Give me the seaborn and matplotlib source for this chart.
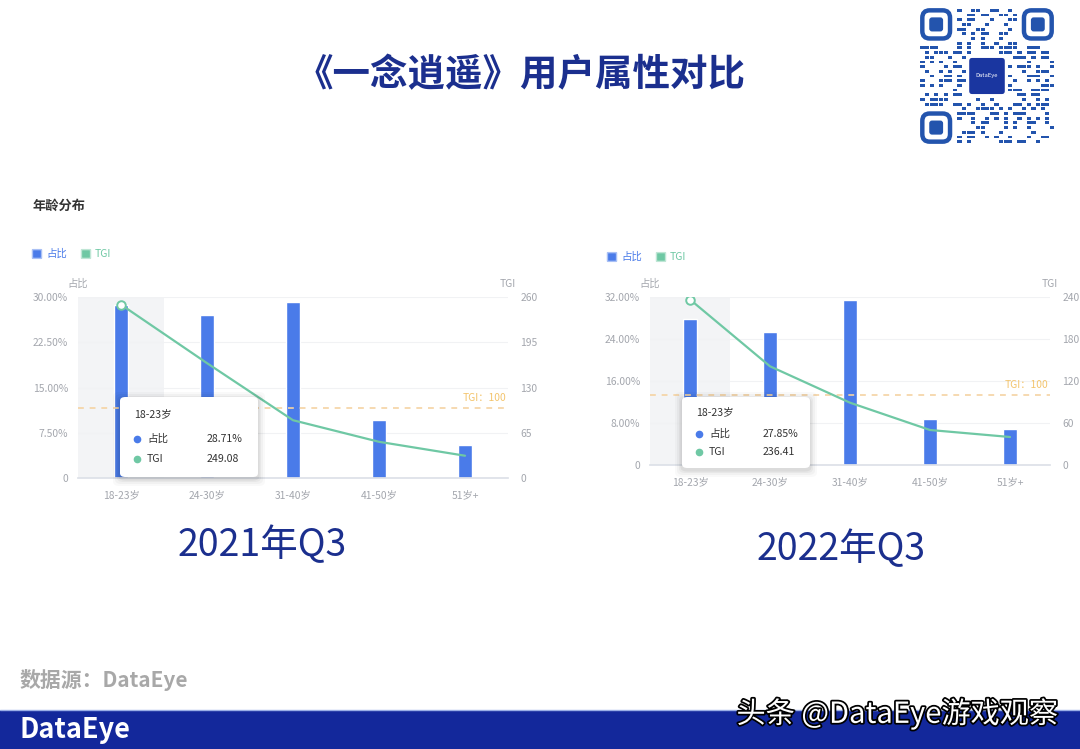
import numpy as np
import matplotlib
matplotlib.use("Agg")
import matplotlib.pyplot as plt
from matplotlib.patches import FancyBboxPatch, Rectangle
import matplotlib.patheffects as pe
import seaborn as sns

# ---- data ----
ages = ["18-23岁", "24-30岁", "31-40岁", "41-50岁", "51岁+"]
share_2021 = [28.71, 27.0, 29.2, 9.6, 5.5]
tgi_2021 = [249.08, 165, 83, 52, 32]
share_2022 = [27.85, 25.3, 31.4, 8.7, 6.9]
tgi_2022 = [236.41, 141, 89, 50, 40]

share_ticks_2021 = [0, 7.5, 15, 22.5, 30]
tgi_ticks_2021 = [0, 65, 130, 195, 260]
share_ticks_2022 = [0, 8, 16, 24, 32]
tgi_ticks_2022 = [0, 60, 120, 180, 240]
tgi_baseline = 100

sns.set_theme(style="white")
plt.rcParams["font.family"] = ["Noto Sans CJK SC", "DejaVu Sans"]

W, H = 1080, 749
fig = plt.figure(figsize=(W / 100, H / 100), dpi=100)
fig.patch.set_facecolor("white")


def fx(px):
    return px / W


def fy(py):
    return 1 - py / H


BLUE = "#4a7be9"
GREEN = "#6fc8a4"
GRAY = "#a3a6ad"
NAVY = "#1b2f8e"

# title
fig.text(fx(521), fy(75), "《一念逍遥》用户属性对比", ha="center", va="center",
         fontsize=27, fontweight="bold", color=NAVY)
fig.text(fx(33), fy(206), "年龄分布", ha="left", va="center",
         fontsize=9.5, fontweight="bold", color="#333333")


def legend(x0, y0):
    fig.add_artist(FancyBboxPatch((fx(x0), fy(y0 + 4)), fx(8), 8 / H,
                                  boxstyle="round,pad=0.0005", fc=BLUE, ec="#a9c0f5",
                                  lw=1, transform=fig.transFigure))
    fig.text(fx(x0 + 13), fy(y0), "占比", ha="left", va="center", fontsize=7.5, color=BLUE)
    fig.add_artist(FancyBboxPatch((fx(x0 + 49), fy(y0 + 4)), fx(8), 8 / H,
                                  boxstyle="round,pad=0.0005", fc=GREEN, ec="#bfe6d5",
                                  lw=1, transform=fig.transFigure))
    fig.text(fx(x0 + 62), fy(y0), "TGI", ha="left", va="center", fontsize=7.5, color=GREEN)


def panel(left, top, right, bottom, share, tgi, sticks, tticks, label_fmt, bar_w):
    ax = fig.add_axes([fx(left), fy(bottom), fx(right - left), (bottom - top) / H])
    ax.axvspan(-0.5, 0.5, color="#f3f4f6", zorder=0, lw=0)
    sns.barplot(x=ages, y=share, color=BLUE, saturation=1, width=bar_w, ax=ax, zorder=2)
    ax.set_xlim(-0.5, len(ages) - 0.5)
    ax.set_ylim(sticks[0], sticks[-1])
    ax.set_yticks(sticks)
    ax.set_yticklabels([label_fmt(v) for v in sticks])
    ax.set_xlabel("")
    ax.set_ylabel("")
    ax.grid(axis="y", color="#f1f2f4", lw=0.8, zorder=0)
    ax.set_axisbelow(True)
    for s in ["top", "left", "right"]:
        ax.spines[s].set_visible(False)
    ax.spines["bottom"].set_color("#dde1e8")
    ax.tick_params(axis="both", length=0, labelsize=7.4, colors=GRAY)
    ax.tick_params(axis="y", pad=7)
    ax.tick_params(axis="x", pad=9)

    ax2 = ax.twinx()
    xs = np.arange(len(ages))
    sns.lineplot(x=xs, y=tgi, ax=ax2, color=GREEN, lw=1.6, zorder=3)
    ax2.scatter(xs[:1], tgi[:1], s=38, facecolor="white", edgecolor=GREEN, lw=1.4, zorder=4)
    ax2.axhline(tgi_baseline, color="#f5d3a3", ls=(0, (3.5, 3.5)), lw=1.2, zorder=1)
    ax2.text(len(ages) - 0.5 - 0.02, tgi_baseline + tticks[-1] * 0.03,
             f"TGI：{tgi_baseline}", ha="right", va="bottom", fontsize=7.4, color="#f3c46c")
    ax2.set_ylim(tticks[0], tticks[-1])
    ax2.set_yticks(tticks)
    ax2.set_ylabel("")
    ax2.grid(False)
    for s in ax2.spines.values():
        s.set_visible(False)
    ax2.tick_params(axis="y", length=0, labelsize=7.4, colors=GRAY, pad=9)

    fig.text(fx(left), fy(top - 13), "占比", ha="center", va="center", fontsize=7.4, color=GRAY)
    fig.text(fx(right), fy(top - 13), "TGI", ha="center", va="center", fontsize=7.4, color=GRAY)
    return ax, ax2


def pct(v):
    return "0" if v == 0 else f"{v:.2f}%"


panel(78, 297, 508, 478, share_2021, tgi_2021, share_ticks_2021, tgi_ticks_2021, pct, 0.17)
panel(650, 297, 1050, 465, share_2022, tgi_2022, share_ticks_2022, tgi_ticks_2022, pct, 0.17)

legend(33, 254)
legend(608, 257)


def tooltip(x0, y0, x1, y1, share, tgi):
    for k, a in [(7, 0.025), (5, 0.03), (3, 0.04), (1.5, 0.05)]:
        fig.add_artist(FancyBboxPatch((fx(x0 - k), fy(y1 + k + 2)), fx(x1 - x0 + 2 * k),
                                      (y1 - y0 + 2 * k) / H, boxstyle="round,pad=0,rounding_size=0.006",
                                      fc="black", ec="none", alpha=a, transform=fig.transFigure))
    fig.add_artist(FancyBboxPatch((fx(x0), fy(y1)), fx(x1 - x0), (y1 - y0) / H,
                                  boxstyle="round,pad=0,rounding_size=0.005",
                                  fc="white", ec="none", transform=fig.transFigure))
    h = y1 - y0
    fig.text(fx(x0 + 14), fy(y0 + h * 0.21), ages[0], ha="left", va="center",
             fontsize=7.6, color="#333333")
    rows = [("占比", f"{share[0]:.2f}%", BLUE), ("TGI", f"{tgi[0]:.2f}", GREEN)]
    for i, (name, val, c) in enumerate(rows):
        yy = fy(y0 + h * (0.52 + 0.25 * i))
        fig.add_artist(plt.Line2D([fx(x0 + 17)], [yy], marker="o", ms=4.5, color=c,
                                  transform=fig.transFigure))
        fig.text(fx(x0 + 27), yy, name, ha="left", va="center", fontsize=7.6, color="#333333")
        fig.text(fx(x0 + (x1 - x0) * 0.63), yy, val, ha="left", va="center",
                 fontsize=7.6, color="#333333")


tooltip(120, 397, 258, 477, share_2021, tgi_2021)
tooltip(682, 397, 810, 468, share_2022, tgi_2022)

# period captions
fig.text(fx(262), fy(546), "2021年Q3", ha="center", va="center", fontsize=27, color=NAVY)
fig.text(fx(841), fy(550), "2022年Q3", ha="center", va="center", fontsize=27, color=NAVY)

# source note
fig.text(fx(20), fy(680), "数据源：DataEye", ha="left", va="center", fontsize=15,
         fontweight="bold", color="#a8a8a8")

# footer band
fig.add_artist(Rectangle((0, 0), 1, 39 / H, fc="#13289b", ec="none", transform=fig.transFigure))
fig.add_artist(plt.Line2D([0, 1], [39 / H, 39 / H], color="#9aaee6", lw=1, transform=fig.transFigure))
fig.text(fx(20), fy(730), "DataEye", ha="left", va="center", fontsize=19.5,
         fontweight="bold", color="white")
fig.text(fx(1058), fy(714), "头条 @DataEye游戏观察", ha="right", va="center", fontsize=21,
         color="white", path_effects=[pe.withStroke(linewidth=2.5, foreground="black")])

# QR code block
qr = fig.add_axes([fx(920), fy(144), fx(134), 136 / H])
qr.set_xlim(0, 29)
qr.set_ylim(29, 0)
qr.axis("off")
QRC = "#2354ad"
n = 29
for i in range(n):
    for j in range(n):
        in_finder = (i < 8 and j < 8) or (i < 8 and j > n - 9) or (i > n - 9 and j < 8)
        in_logo = 10 <= i <= 18 and 10 <= j <= 18
        if in_finder or in_logo:
            continue
        hsh = ((i * 73856093) ^ (j * 19349663) ^ (i * j * 83492791)) % 11
        if hsh < 5:
            qr.add_patch(Rectangle((j + 0.1, i + 0.2), 0.9, 0.6, fc=QRC, ec="none"))
for (r, c) in [(0, 0), (0, n - 7), (n - 7, 0)]:
    qr.add_patch(FancyBboxPatch((c + 0.5, r + 0.5), 6, 6, boxstyle="round,pad=0,rounding_size=1.6",
                                fc="none", ec=QRC, lw=3.2))
    qr.add_patch(FancyBboxPatch((c + 2, r + 2), 3, 3, boxstyle="round,pad=0,rounding_size=0.6",
                                fc=QRC, ec="none"))
qr.add_patch(FancyBboxPatch((10.5, 10.5), 8, 8, boxstyle="round,pad=0,rounding_size=0.8",
                            fc="#1a36a0", ec="white", lw=1))
qr.text(14.5, 14.5, "DataEye", ha="center", va="center", fontsize=4.2, color="white")

fig.savefig("out.png", dpi=100)
